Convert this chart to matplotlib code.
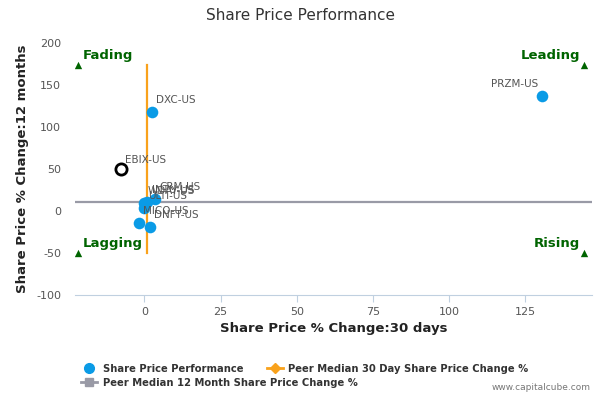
import numpy as np
import matplotlib
matplotlib.use("Agg")
import matplotlib.pyplot as plt
from matplotlib.lines import Line2D

plt.rcParams["axes.unicode_minus"] = False

# company points: 30 day change vs 12 month change
tickers = ["DXC-US", "PRZM-US", "CRM-US", "WDAY-US", "INTU-US", "ULTI-US", "MICO-US", "DNFT-US"]
chg_30d = [2.5, 130.5, 3.5, -0.3, 1.0, -0.2, -1.8, 1.8]
chg_12m = [118, 137, 14, 9, 11, 4, -14, -19.5]

# highlighted company (open marker)
focus_ticker = "EBIX-US"
focus_30d = -7.7
focus_12m = 50

# peer medians
median_30d = 1.0
median_12m = 10.5
median_span = [-50, 174]

# quadrant corners
quad_names = ["Fading", "Leading", "Lagging", "Rising"]
quad_x = [-21.7, 144.3, -21.7, 144.3]
quad_y = [174, 174, -50, -50]

blue = "#0a9be6"
orange = "#f9a21c"
grey = "#999aa6"
green = "#006400"

fig = plt.figure(figsize=(6, 4), dpi=100)
ax = fig.add_axes([0.125, 0.2625, 0.862, 0.63])

ax.plot([median_30d, median_30d], median_span, color=orange, lw=1.6, zorder=2)
ax.axhline(median_12m, color=grey, lw=1.6, zorder=2)

ax.scatter(chg_30d, chg_12m, s=70, color=blue, zorder=3, linewidths=0)
ax.scatter([focus_30d], [focus_12m], s=65, facecolor="white", edgecolor="black",
           linewidths=2, zorder=4)

txt = dict(fontsize=7.5, color="#555555", zorder=5)
for t, x, y in zip(tickers, chg_30d, chg_12m):
    if t == "PRZM-US":
        ax.annotate(t, (x, y), xytext=(-3, 5), textcoords="offset points",
                    ha="right", va="bottom", **txt)
    else:
        ax.annotate(t, (x, y), xytext=(3, 5), textcoords="offset points",
                    ha="left", va="bottom", **txt)
ax.annotate(focus_ticker, (focus_30d, focus_12m), xytext=(3, 3), textcoords="offset points",
            ha="left", va="bottom", **txt)

ax.scatter(quad_x, quad_y, marker="^", s=28, color=green, zorder=3, linewidths=0)
for name, x, y in zip(quad_names, quad_x, quad_y):
    if x < 0:
        ax.annotate(name, (x, y), xytext=(3, 2), textcoords="offset points",
                    ha="left", va="bottom", fontsize=9.5, fontweight="bold", color=green)
    else:
        ax.annotate(name, (x, y), xytext=(-3, 2), textcoords="offset points",
                    ha="right", va="bottom", fontsize=9.5, fontweight="bold", color=green)

ax.set_xlim(-22.8, 147)
ax.set_ylim(-100, 200)
ax.set_xticks(np.arange(0, 126, 25))
ax.set_yticks(np.arange(-100, 201, 50))
for s in ["top", "right", "left"]:
    ax.spines[s].set_visible(False)
ax.spines["bottom"].set_color("#c0d0e0")
ax.tick_params(axis="x", colors="#c0d0e0", labelcolor="#555555", labelsize=8, length=5)
ax.tick_params(axis="y", length=0, labelcolor="#555555", labelsize=8, pad=10)

ax.set_xlabel("Share Price % Change:30 days", fontsize=9.5, fontweight="bold", color="#222222")
ax.set_ylabel("Share Price % Change:12 months", fontsize=9.5, fontweight="bold",
              color="#222222", labelpad=5)

fig.text(0.5, 0.96, "Share Price Performance", ha="center", va="center",
         fontsize=11, color="#333333")

# legend: two rows, drawn as two legends so the second column sits close
leg_kw = dict(frameon=False, prop=dict(size=7.2, weight="bold"), labelcolor="#333333",
              handlelength=1.6, handletextpad=0.6, columnspacing=2.3, borderaxespad=0,
              borderpad=0)
row1 = [Line2D([], [], marker="o", ls="none", color=blue, markersize=7),
        Line2D([], [], marker="D", color=orange, lw=2, markersize=5)]
fig.legend(row1, ["Share Price Performance", "Peer Median 30 Day Share Price Change %"],
           ncol=2, loc="center left", bbox_to_anchor=(0.135, 0.078), **leg_kw)
row2 = [Line2D([], [], marker="s", color=grey, lw=2, markersize=6)]
fig.legend(row2, ["Peer Median 12 Month Share Price Change %"],
           loc="center left", bbox_to_anchor=(0.135, 0.043), **leg_kw)

fig.text(0.985, 0.02, "www.capitalcube.com", ha="right", va="bottom", fontsize=6.5, color="#777777")

fig.savefig("out.png", dpi=100)
